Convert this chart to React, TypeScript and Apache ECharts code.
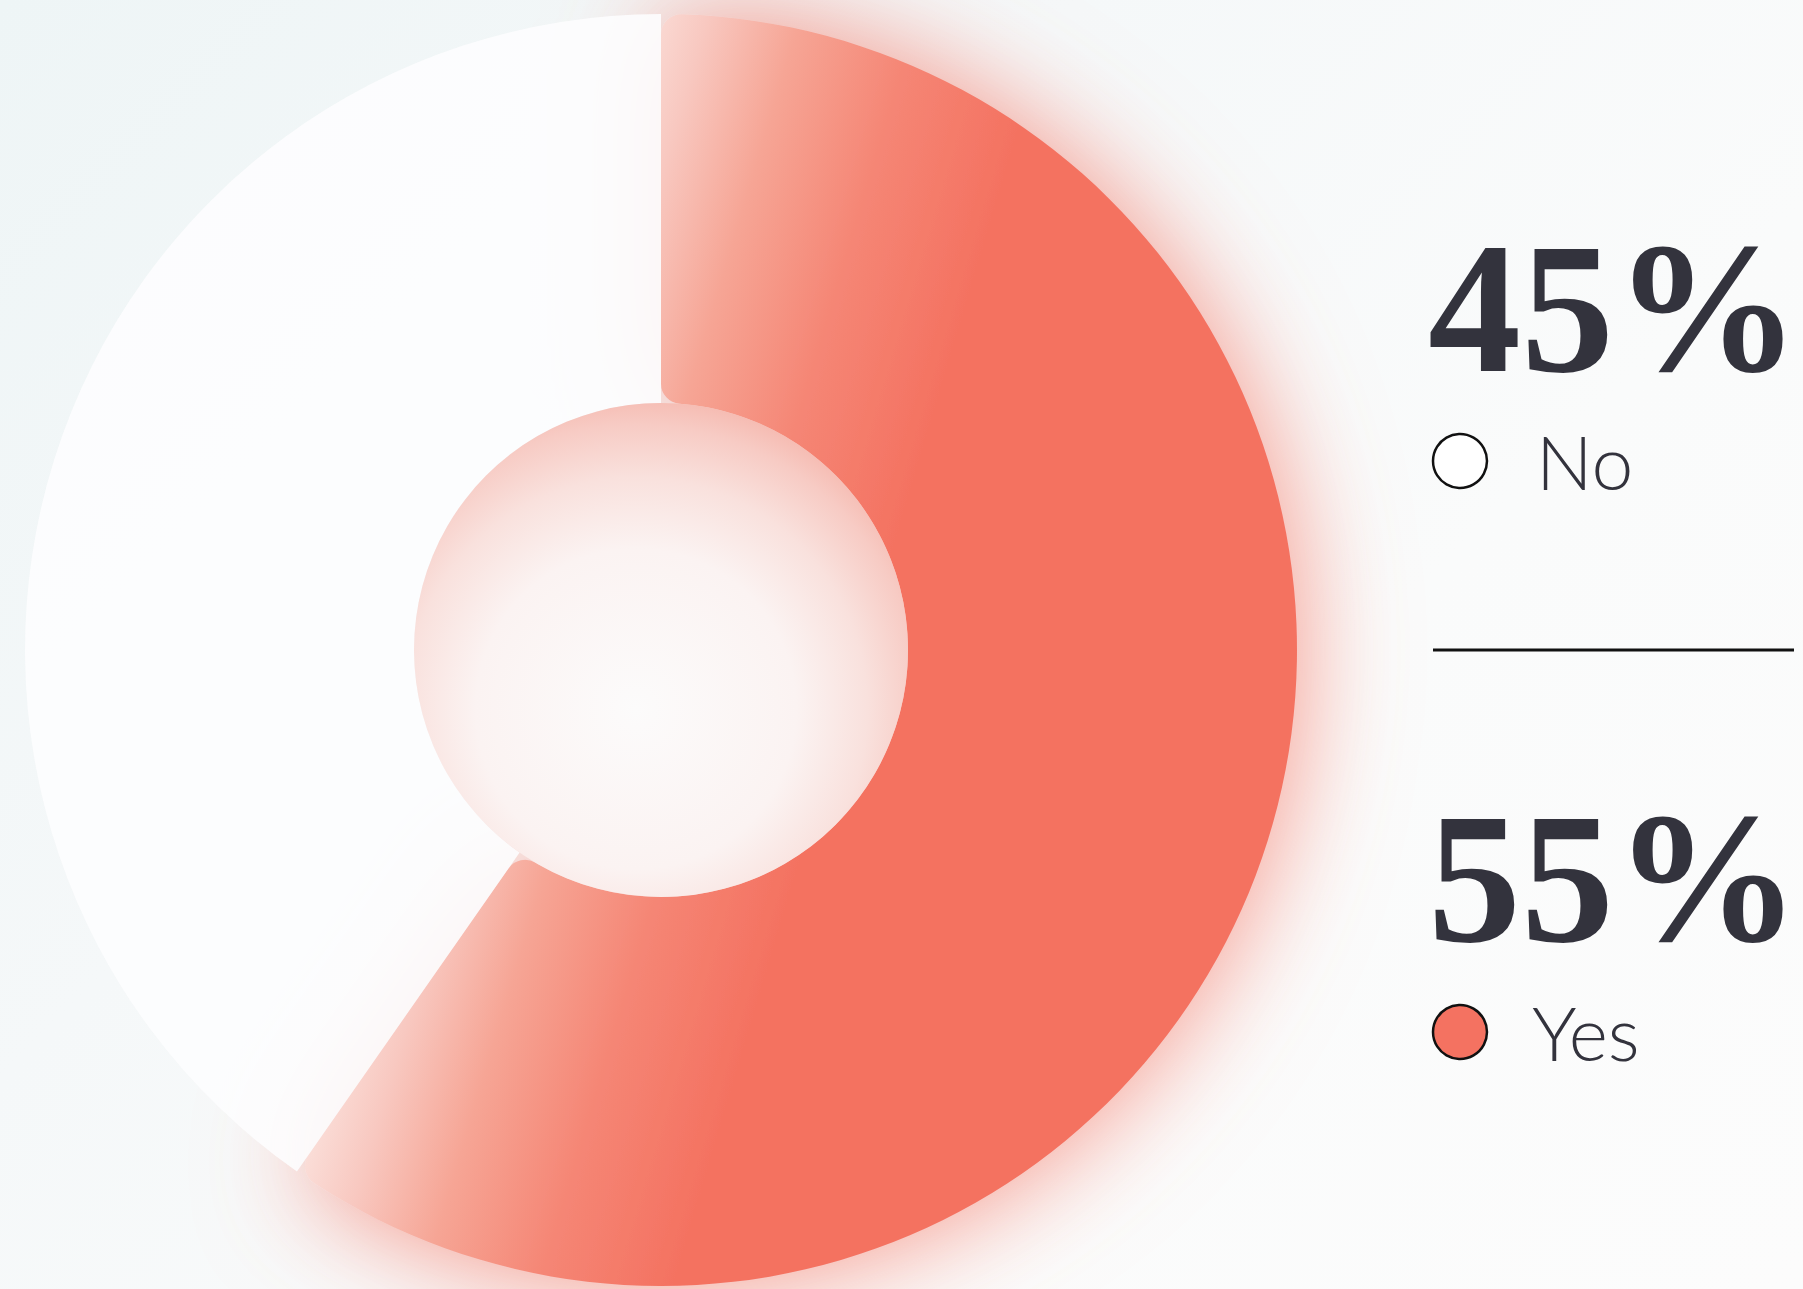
import React, { useEffect, useRef } from "react";
import * as echarts from "echarts";

// ---- data ----
const categories = ["Yes", "No"];
// arc sizes as drawn in the reference (the Yes arc reaches ~215° clockwise from 12 o'clock)
const arcValues = [59.7, 40.3];
const shareLabels = ["55%", "45%"];

const RED = "#F47261";
const WHITE_SLICE = "#fdfdfe";
const INK = "#33333d";

export default function App() {
  const ref = useRef<HTMLDivElement>(null);

  useEffect(() => {
    if (!ref.current) return;
    const chart = echarts.init(ref.current, undefined, { renderer: "svg" });

    const redFill = new echarts.graphic.LinearGradient(
      590,
      160,
      975,
      275,
      [
        { offset: 0, color: "#fbe2dd" },
        { offset: 0.18, color: "#f8c8c0" },
        { offset: 0.4, color: "#f6a595" },
        { offset: 0.68, color: "#f58675" },
        { offset: 1, color: RED },
      ],
      true
    );

    const sliceStyles = [
      {
        color: redFill,
        borderRadius: 20,
        shadowBlur: 110,
        shadowColor: "rgba(244,114,97,0.75)",
      },
      {
        color: WHITE_SLICE,
        opacity: 0.9,
        borderRadius: 0,
      },
    ];

    const data = categories.map((name, i) => ({
      name,
      value: arcValues[i],
      itemStyle: sliceStyles[i],
    }));

    const holeFill = new echarts.graphic.RadialGradient(
      636,
      709,
      356,
      [
        { offset: 0, color: "#fcfbfb" },
        { offset: 0.45, color: "#fbf3f2" },
        { offset: 0.65, color: "#f9e1dd" },
        { offset: 0.8, color: "#f7cbc4" },
        { offset: 0.9, color: "#f5b7ad" },
        { offset: 1, color: "#f4a89c" },
      ],
      true
    );

    const serif = "'Liberation Serif', 'Times New Roman', serif";
    const sans = "Lato, 'Noto Sans', sans-serif";

    chart.setOption({
      animation: false,
      backgroundColor: "transparent",
      series: [
        {
          type: "pie",
          radius: [247, 636],
          center: [661, 650],
          startAngle: 90,
          clockwise: true,
          silent: true,
          label: { show: false },
          labelLine: { show: false },
          emphasis: { disabled: true },
          data,
        },
      ],
      graphic: [
        {
          type: "circle",
          z: 100,
          silent: true,
          shape: { cx: 661, cy: 650, r: 247 },
          style: { fill: holeFill },
        },
        {
          type: "text",
          x: 1428,
          y: 308,
          style: {
            text: shareLabels[1],
            fontFamily: serif,
            fontWeight: "bold",
            fontSize: 186,
            fill: INK,
            textVerticalAlign: "middle",
            verticalAlign: "middle",
          },
        },
        {
          type: "circle",
          shape: { cx: 1460, cy: 461, r: 27 },
          style: { fill: "#ffffff", stroke: "#111111", lineWidth: 2.5 },
        },
        {
          type: "text",
          x: 1536,
          y: 461,
          style: {
            text: categories[1],
            fontFamily: sans,
            fontWeight: 300,
            fontSize: 75,
            fill: INK,
            textVerticalAlign: "middle",
            verticalAlign: "middle",
          },
        },
        {
          type: "line",
          shape: { x1: 1433, y1: 650, x2: 1794, y2: 650 },
          style: { stroke: "#111111", lineWidth: 3 },
        },
        {
          type: "text",
          x: 1428,
          y: 878,
          style: {
            text: shareLabels[0],
            fontFamily: serif,
            fontWeight: "bold",
            fontSize: 186,
            fill: INK,
            textVerticalAlign: "middle",
            verticalAlign: "middle",
          },
        },
        {
          type: "circle",
          shape: { cx: 1460, cy: 1032, r: 27 },
          style: { fill: RED, stroke: "#111111", lineWidth: 2.5 },
        },
        {
          type: "text",
          x: 1532,
          y: 1032,
          style: {
            text: categories[0],
            fontFamily: sans,
            fontWeight: 300,
            fontSize: 75,
            fill: INK,
            textVerticalAlign: "middle",
            verticalAlign: "middle",
          },
        },
      ],
    });

    return () => chart.dispose();
  }, []);

  return (
    <div
      style={{
        position: "fixed",
        left: 0,
        top: 0,
        width: 1803,
        height: 1289,
        background:
          "linear-gradient(135deg, #eef5f6 0%, #f5f8f9 35%, #fafbfb 65%, #fcfcfc 100%)",
      }}
    >
      <div ref={ref} style={{ width: 1803, height: 1289 }} />
    </div>
  );
}
